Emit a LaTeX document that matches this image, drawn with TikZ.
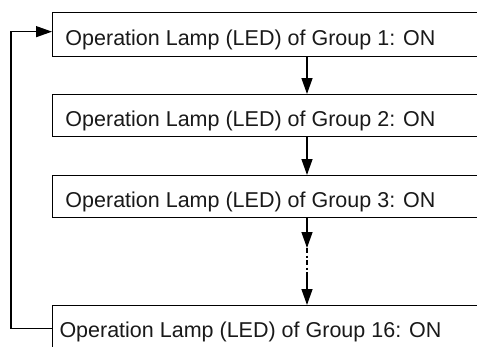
\documentclass[tikz,border=0pt]{standalone}
\usepackage{fontspec}
\setmainfont{Liberation Sans}
\usetikzlibrary{arrows.meta}
\begin{document}
\begin{tikzpicture}[x=1pt,y=-1pt,
  stepbox/.style={draw=black, line width=1.3pt, rectangle, minimum width=470pt, anchor=north west, inner sep=0pt},
  lbl/.style={anchor=base, inner sep=0pt, text=black!90, font=\fontsize{21.5}{24}\selectfont},
  arr/.style={line width=1.3pt, -{Triangle[length=16pt,width=11pt]}},
  lnk/.style={line width=1.3pt}]
\useasboundingbox (0,0) rectangle (477,346);
\clip (0,0) rectangle (477,346);
\node[stepbox, minimum height=44pt] (b1) at (52,12) {};
\node[stepbox, minimum height=42pt] (b2) at (52,94) {};
\node[stepbox, minimum height=42pt] (b3) at (52,175) {};
\node[stepbox, minimum height=42pt] (b4) at (52,305) {};
\node[lbl] (t1) at (250.5,45) {Operation Lamp (LED) of Group 1: ON};
\node[lbl] (t2) at (250.5,126) {Operation Lamp (LED) of Group 2: ON};
\node[lbl] (t3) at (250.5,207) {Operation Lamp (LED) of Group 3: ON};
\node[lbl] (t4) at (250.5,337) {Operation Lamp (LED) of Group 16: ON};
\coordinate (ax) at (307,0);
\coordinate (m1) at (307,248);
\coordinate (m2) at (307,276);
\coordinate (lx) at (11,0);
\draw[arr] (b1.south -| ax) -- (b2.north -| ax);
\draw[arr] (b2.south -| ax) -- (b3.north -| ax);
\draw[arr] (b3.south -| ax) -- (m1);
\draw[lnk, dash pattern=on 5pt off 2.5pt on 2pt off 2.5pt] (m1) -- (m2);
\draw[arr] (m2) -- (b4.north -| ax);
\draw[arr] ([yshift=-2pt]b4.west) -| (lx |- b2.north) |- ([yshift=3pt]b1.west);
\end{tikzpicture}
\end{document}
